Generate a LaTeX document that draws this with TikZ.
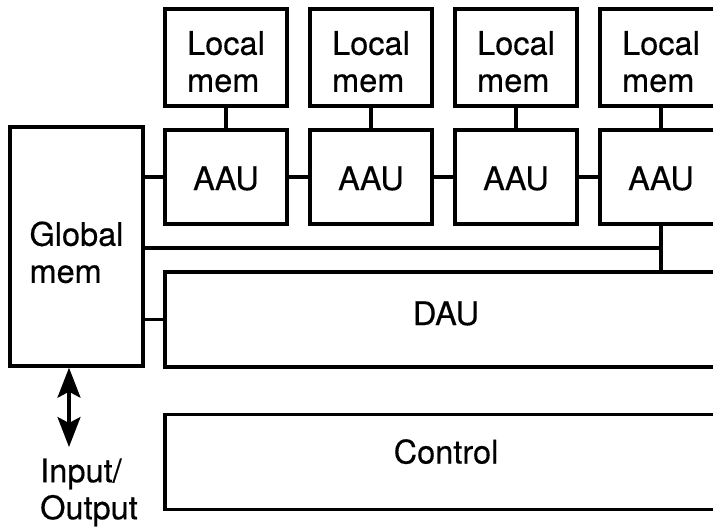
\documentclass[tikz,border=0pt]{standalone}
\usepackage{fontspec}
\newfontfamily\lblfont{TeX Gyre Heros}[FakeBold=0.4]
\usetikzlibrary{arrows.meta}
\newcommand\twoline[3]{\rule{0pt}{#1}#2\\#3}
\begin{document}
\begin{tikzpicture}[x=1pt,y=-1pt,
  every node/.style={font=\lblfont\fontsize{32.5}{37}\selectfont, inner sep=0pt},
  blk/.style={draw, line width=3.4pt, rectangle},
  lmem/.style={blk, minimum width=122pt, minimum height=97pt, align=left},
  aau/.style={blk, minimum width=122pt, minimum height=94pt, text height=26pt, text depth=0pt},
  wide/.style={blk, minimum width=562pt, minimum height=95pt},
  wire/.style={line width=3.2pt},
  iohead/.tip={Stealth[length=30pt,width=23pt,inset=6pt]}]
\useasboundingbox (0,0) rectangle (713,527);
\clip (0,0) rectangle (713,527);

% global memory
\node[blk, minimum width=133pt, minimum height=239pt, align=left] (gm) at (76.5,246.5) {\twoline{36pt}{Global}{mem}};

% local memories
\node[lmem] (lm1) at (226,57.5) {\twoline{32pt}{Local}{mem}};
\node[lmem] (lm2) at (371,57.5) {\twoline{32pt}{Local}{mem}};
\node[lmem] (lm3) at (516,57.5) {\twoline{32pt}{Local}{mem}};
\node[lmem] (lm4) at (661,57.5) {\twoline{32pt}{Local}{mem}};

% address arithmetic units
\node[aau] (a1) at (226,177) {AAU};
\node[aau] (a2) at (371,177) {AAU};
\node[aau] (a3) at (516,177) {AAU};
\node[aau] (a4) at (661,177) {AAU};

% data arithmetic unit and control
\node[wide, text height=23pt, text depth=12pt] (dau) at (446,319.5) {DAU};
\node[wide, text height=23pt, text depth=20pt] (ctl) at (446,462) {Control};

% input/output label
\node[align=left, anchor=north west] (io) at (40,450) {\twoline{32pt}{Input/}{Output}};
\coordinate (iotip) at (69,447);

% connections
\foreach \i in {1,2,3,4} \draw[wire] (lm\i) -- (a\i);
\draw[wire] (gm.east |- a1) -- (a1);
\draw[wire] (a1) -- (a2);
\draw[wire] (a2) -- (a3);
\draw[wire] (a3) -- (a4);
\coordinate (j) at (a4.south |- 0,248);
\draw[wire] (a4.south) -- (dau.north -| a4.south);
\draw[wire] (gm.east |- j) -- (j);
\draw[wire] (gm.east |- dau.west) -- (dau.west);
\draw[wire, iohead-iohead] (gm.south -| iotip) -- (iotip);
\end{tikzpicture}
\end{document}
